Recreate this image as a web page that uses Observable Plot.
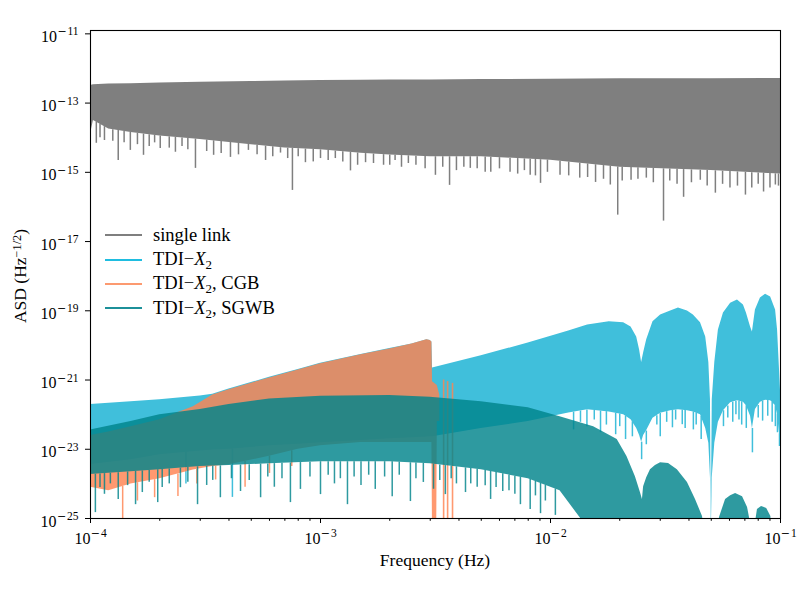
<!DOCTYPE html>
<html><head><meta charset="utf-8">
<script src="https://cdn.jsdelivr.net/npm/d3@7"></script>
<script src="https://cdn.jsdelivr.net/npm/@observablehq/plot@0.6"></script>
<style>
body{margin:0;background:#fff;}
#wrap{position:relative;width:800px;height:591px;font-family:"Liberation Serif",serif;color:#000;}
#legend{position:absolute;left:105px;top:223px;font-size:18.5px;}
.row{display:flex;align-items:center;height:24.4px;white-space:nowrap;}
.sw{width:37px;height:2px;margin-right:11px;flex-shrink:0;}
sub{font-size:0.7em;vertical-align:-0.3em;line-height:0;}
sup{font-size:0.7em;vertical-align:0.45em;line-height:0;}
#xlabel{position:absolute;left:335px;width:200px;text-align:center;top:550px;font-size:17.5px;}
#ylabel{position:absolute;left:-80.5px;top:266px;width:200px;text-align:center;font-size:17.5px;line-height:20px;transform:rotate(-90deg);}
</style></head><body>
<div id="wrap"><div id="chart"></div><div id="legend"></div>
<div id="xlabel">Frequency (Hz)</div>
<div id="ylabel">ASD (Hz<sup>−1/2</sup>)</div></div>
<script>
// ---------- axis ticks ----------
const xMajorTicks = [1e-4, 1e-3, 1e-2, 1e-1];
const xMinorTicks = [2e-4,3e-4,4e-4,5e-4,6e-4,7e-4,8e-4,9e-4,2e-3,3e-3,4e-3,5e-3,6e-3,7e-3,8e-3,9e-3,2e-2,3e-2,4e-2,5e-2,6e-2,7e-2,8e-2,9e-2];
const yTicks = [1e-25, 1e-23, 1e-21, 1e-19, 1e-17, 1e-15, 1e-13, 1e-11];

// ---------- single link (envelope of the noisy ASD) ----------
const grayFreq  = [1e-4,1.03e-4,1.2e-4,1.5e-4,2e-4,3e-4,5e-4,7e-4,1e-3,1.5e-3,2e-3,3e-3,5e-3,1e-2,2e-2,5e-2,1e-1];
const grayUpper = [3.24e-13,3.39e-13,3.55e-13,3.63e-13,3.80e-13,3.98e-13,4.17e-13,4.37e-13,4.47e-13,4.57e-13,4.68e-13,4.68e-13,4.79e-13,4.90e-13,5.01e-13,5.01e-13,5.13e-13];
const grayLower = [1.26e-14,3.16e-14,1.78e-14,1.41e-14,1.12e-14,8.91e-15,6.31e-15,5.01e-15,4.47e-15,3.55e-15,3.16e-15,2.82e-15,2.82e-15,2.24e-15,1.41e-15,1.12e-15,8.91e-16];
const graySpikeFreq = [1.06e-4,1.15e-4,1.32e-4,1.49e-4,1.70e-4,2.01e-4,2.34e-4,2.86e-4,3.43e-4,4.06e-4,4.86e-4,5.77e-4,6.70e-4,7.55e-4,8.60e-4,1.0e-3,1.16e-3,1.35e-3,1.57e-3,1.88e-3,2.11e-3,2.41e-3,3.16e-3,3.64e-3,4.48e-3,5.50e-3,6.67e-3,8.16e-3,9.05e-3,1.10e-2,1.34e-2,1.57e-2,1.82e-2,1.96e-2,2.24e-2,2.61e-2,3.10e-2,3.79e-2,4.48e-2,5.21e-2,6.03e-2,7.04e-2,8.44e-2,9.5e-2,
  1.1e-4,1.25e-4,1.4e-4,1.6e-4,1.8e-4,1.9e-4,2.2e-4,2.5e-4,2.65e-4,3.2e-4,3.7e-4,4.4e-4,5.3e-4,6.2e-4,7.2e-4,8.0e-4,9.3e-4,1.08e-3,1.25e-3,1.45e-3,1.7e-3,2.0e-3,2.25e-3,2.6e-3,2.85e-3,3.4e-3,3.9e-3,4.2e-3,4.8e-3,5.2e-3,6.0e-3,7.2e-3,7.7e-3,8.6e-3,9.7e-3,1.2e-2,1.45e-2,1.7e-2,2.05e-2,2.4e-2,2.8e-2,3.3e-2,3.55e-2,4.1e-2,4.8e-2,5.6e-2,6.5e-2,7.5e-2,8.0e-2,9.0e-2,9.8e-2];
const graySpikeMin  = [6.9e-15,8.3e-15,2.2e-15,4.3e-15,3.1e-15,4.9e-15,3.8e-15,1.3e-15,3.1e-15,2.7e-15,4.3e-15,2.2e-15,3.6e-15,3.0e-16,1.9e-15,2.5e-15,2.5e-15,1.1e-15,1.9e-15,1.6e-15,2.2e-15,1.8e-15,8.2e-16,4.2e-16,1.3e-15,1.0e-15,1.0e-15,8.2e-16,4.8e-16,8.2e-16,6.8e-16,5.1e-16,4.3e-16,5.8e-17,5.9e-16,6.8e-16,3.9e-17,1.9e-16,5.9e-16,2.5e-16,3.5e-16,2.2e-16,2.7e-16,4.3e-16,
  1.0e-14,7.9e-15,7.1e-15,6.3e-15,5.6e-15,7.1e-15,5.0e-15,5.6e-15,4.5e-15,4.0e-15,3.5e-15,3.2e-15,3.2e-15,2.8e-15,2.5e-15,2.8e-15,2.0e-15,2.2e-15,2.0e-15,1.6e-15,1.8e-15,1.6e-15,1.4e-15,1.6e-15,1.26e-15,1.4e-15,1.12e-15,1.4e-15,1.26e-15,1.0e-15,1.26e-15,8.9e-16,1.12e-15,7.9e-16,1.0e-15,7.9e-16,7.1e-16,6.3e-16,5.6e-16,6.3e-16,5.0e-16,5.6e-16,4.5e-16,5.0e-16,4.0e-16,4.5e-16,4.0e-16,3.5e-16,4.5e-16,3.5e-16,4.0e-16];

// ---------- TDI-X2 ----------
const tdiFreq  = [1e-4,1.5e-4,2e-4,3e-4,3.4e-4,4e-4,6e-4,8e-4,1e-3,1.5e-3,2e-3,2.5e-3,2.9e-3,3.0e-3,3.05e-3,3.07e-3,5e-3,8e-3,1.2e-2,1.45e-2,1.8e-2,2.08e-2,2.24e-2,2.37e-2,2.44e-2,2.49e-2,2.54e-2,2.62e-2,2.79e-2,3.01e-2,3.33e-2,3.6e-2,3.94e-2,4.18e-2,4.49e-2,4.73e-2,4.88e-2,4.96e-2,5.0e-2,5.05e-2,5.18e-2,5.37e-2,5.65e-2,6.07e-2,6.5e-2,6.9e-2,7.11e-2,7.41e-2,7.55e-2,7.78e-2,8.18e-2,8.61e-2,9.06e-2,9.52e-2,9.71e-2,9.95e-2,1e-1];
const tdiUpper = [1.95e-22,2.34e-22,2.69e-22,3.47e-22,3.9e-22,5.5e-22,1.2e-21,2.0e-21,3.05e-21,5.5e-21,8.1e-21,1.1e-20,1.45e-20,1.38e-20,1.26e-20,2.24e-21,5.01e-21,1.17e-20,2.63e-20,3.9e-20,4.8e-20,4.5e-20,3.4e-20,1.74e-20,7.4e-21,3.2e-21,6.0e-21,1.45e-20,4.8e-20,7.6e-20,9.8e-20,1.2e-19,9.8e-20,7.6e-20,4.5e-20,1.74e-20,3.2e-21,2.7e-22,5e-26,2.7e-22,3.2e-21,2.8e-20,8.7e-20,1.66e-19,2.04e-19,1.48e-19,8.7e-20,3.4e-20,2.45e-20,1.05e-19,2.34e-19,3.0e-19,2.5e-19,1.05e-19,2.8e-20,1.0e-21,5e-22];
const tdiLower = [3.63e-24,5.01e-24,6.92e-24,8.91e-24,9.5e-24,1.0e-23,1.26e-23,1.4e-23,1.55e-23,1.8e-23,2.0e-23,2.15e-23,2.25e-23,2.29e-23,2.29e-23,2.29e-23,3.98e-23,6.31e-23,1.12e-22,1.38e-22,1.2e-22,1.0e-22,7.1e-23,4.0e-23,2.5e-23,1.6e-23,2.5e-23,3.5e-23,7.9e-23,1.1e-22,1.3e-22,1.38e-22,1.3e-22,1.2e-22,1.0e-22,4.0e-23,1.5e-23,1.5e-24,3.16e-26,1.5e-24,1.5e-23,6.0e-23,1.3e-22,2.2e-22,2.5e-22,2.3e-22,1.8e-22,9.0e-23,4.0e-23,1.4e-22,2.3e-22,2.6e-22,2.5e-22,1.8e-22,1.0e-22,2.0e-23,1.17e-23];
const tdiSpikeFreq = [2.6e-4,4.14e-4,1.26e-2,1.44e-2,1.65e-2,1.92e-2,2.12e-2,2.27e-2,2.49e-2,2.61e-2,3.0e-2,3.39e-2,3.74e-2,4.18e-2,4.52e-2,5.65e-2,6.2e-2,6.78e-2,7.1e-2,7.55e-2,8.36e-2,9.5e-2,9.9e-2,
  1.35e-2,1.55e-2,1.75e-2,2.0e-2,2.9e-2,3.2e-2,3.5e-2,3.85e-2,4.3e-2,5.9e-2,6.4e-2,6.6e-2,8.0e-2,8.8e-2,9.2e-2,9.7e-2];
const tdiSpikeMin  = [1.0e-24,4.07e-25,3.63e-23,4.47e-23,3.02e-23,2.63e-23,1.91e-23,2.29e-23,5.0e-24,1.35e-23,2.29e-23,4.17e-23,5.13e-23,3.63e-23,1.91e-23,4.5e-23,6.0e-23,5.0e-23,4.0e-23,7.9e-24,6.5e-23,4.5e-23,1.2e-23,
  6.0e-23,7.0e-23,5.0e-23,4.5e-23,5.0e-23,6.0e-23,7.0e-23,4.0e-23,5.0e-23,8.0e-23,1.0e-22,7.0e-23,8.0e-23,9.0e-23,6.0e-23,3.0e-23];

// ---------- TDI-X2, CGB ----------
const cgbFreq  = [1e-4,1.2e-4,1.5e-4,2e-4,2.8e-4,3.4e-4,4e-4,6e-4,8e-4,1e-3,1.5e-3,2e-3,2.5e-3,2.9e-3,3.0e-3,3.05e-3,3.07e-3,3.2e-3,3.22e-3,3.3e-3];
const cgbUpper = [2.51e-23,3.16e-23,4.47e-23,7.08e-23,1.70e-22,3.72e-22,5.25e-22,1.15e-21,1.95e-21,2.95e-21,5.37e-21,7.94e-21,1.10e-20,1.45e-20,1.38e-20,1.26e-20,8.91e-22,7.24e-22,7.0e-22,3.72e-22];
const cgbLower = [7.94e-25,6.31e-25,1.0e-24,1.41e-24,2.51e-24,3.16e-24,3.55e-24,6.31e-24,1.0e-23,1.26e-23,1.58e-23,1.58e-23,1.58e-23,1.58e-23,1.58e-23,1.58e-23,3.16e-26,3.16e-26,6.3e-23,6.3e-23];
const cgbSpikeFreq = [1.38e-4,1.6e-4,1.9e-4,2.4e-4,2.9e-4,3.5e-4,4.7e-4,6.0e-4,7.5e-4];
const cgbSpikeMin  = [5e-26,3.2e-25,4.0e-25,4.3e-25,1.0e-24,1.3e-24,8.0e-25,2.0e-24,3.2e-24];
const cgbBarFreq   = [3.43e-3,3.57e-3,3.75e-3];
const cgbBarTop    = [1.0e-21,9.0e-22,8.0e-22];
const cgbBarBottom = [3.16e-26,3.16e-26,3.16e-26];

// ---------- TDI-X2, SGWB ----------
const sgwbFreq  = [1e-4,1.5e-4,2e-4,3e-4,4e-4,6e-4,1e-3,2e-3,3e-3,5e-3,8e-3,1.1e-2,1.54e-2,1.95e-2,2.15e-2,2.34e-2,2.46e-2,2.51e-2,2.54e-2,2.62e-2,2.72e-2,2.86e-2,3.01e-2,3.26e-2,3.56e-2,3.94e-2,4.27e-2,4.58e-2,4.7e-2,5.3e-2,5.43e-2,5.77e-2,6.07e-2,6.38e-2,6.84e-2,7.19e-2,7.33e-2,7.5e-2,7.63e-2,7.94e-2,8.27e-2,8.71e-2,9.08e-2,9.18e-2,1e-1];
const sgwbUpper = [3.63e-23,6.31e-23,1.0e-22,1.41e-22,1.95e-22,2.82e-22,3.39e-22,3.55e-22,3.16e-22,2.34e-22,1.58e-22,8.71e-23,4.47e-23,1.91e-23,6.17e-24,1.62e-24,5.62e-25,3.55e-25,8.32e-25,1.5e-24,2.57e-24,3.4e-24,4.07e-24,3.9e-24,2.57e-24,1.10e-24,3.55e-25,1.15e-25,3.16e-26,3.16e-26,1.07e-25,3.55e-25,4.57e-25,5.25e-25,4.27e-25,2.09e-25,1.07e-25,3.16e-26,3.16e-26,1.82e-25,2.24e-25,1.95e-25,1.15e-25,3.16e-26,3.16e-26];
const sgwbLower = [1.86e-24,2.24e-24,2.57e-24,3.16e-24,3.39e-24,3.80e-24,4.37e-24,4.37e-24,3.80e-24,2.57e-24,1.41e-24,6.31e-25,3.16e-26,3.16e-26,3.16e-26,3.16e-26,3.16e-26,3.16e-26,3.16e-26,3.16e-26,3.16e-26,3.16e-26,3.16e-26,3.16e-26,3.16e-26,3.16e-26,3.16e-26,3.16e-26,3.16e-26,3.16e-26,3.16e-26,3.16e-26,3.16e-26,3.16e-26,3.16e-26,3.16e-26,3.16e-26,3.16e-26,3.16e-26,3.16e-26,3.16e-26,3.16e-26,3.16e-26,3.16e-26,3.16e-26];
const sgwbSpikeFreq = [1.05e-4,1.15e-4,1.32e-4,1.57e-4,1.68e-4,1.96e-4,2.2e-4,2.46e-4,2.92e-4,3.2e-4,3.67e-4,4.49e-4,5.49e-4,6.3e-4,7.4e-4,8.18e-4,1.0e-3,1.15e-3,1.31e-3,1.5e-3,1.73e-3,2.05e-3,2.46e-3,2.8e-3,3.1e-3,3.49e-3,3.9e-3,4.27e-3,4.8e-3,5.49e-3,6.2e-3,7.4e-3,8.16e-3,9.05e-3,1.05e-2,
  1.1e-4,1.22e-4,1.45e-4,1.8e-4,2.05e-4,2.65e-4,3.4e-4,4.1e-4,4.9e-4,5.9e-4,6.8e-4,9.0e-4,1.08e-3,1.22e-3,1.4e-3,1.62e-3,1.9e-3,2.2e-3,2.6e-3,3.3e-3,3.7e-3,4.5e-3,5.2e-3,5.8e-3,6.6e-3,7.0e-3,8.6e-3,9.5e-3];
const sgwbSpikeMin  = [1.48e-25,5.0e-25,3.55e-25,2.51e-25,5.62e-25,2.88e-25,1.0e-24,7.76e-25,2.51e-25,9.0e-25,3.98e-25,6.03e-25,3.98e-25,8.0e-25,2.88e-25,6.92e-25,4.90e-25,1.0e-24,2.51e-25,9.0e-25,6.92e-25,4.27e-25,3.09e-25,1.1e-24,7.0e-25,4.90e-25,1.0e-24,5.62e-25,8.0e-25,3.55e-25,6.0e-25,2.51e-25,1.82e-25,1.38e-25,1.23e-25,
  7.9e-25,1.0e-24,8.9e-25,1.12e-24,7.9e-25,1.12e-24,1.26e-24,1.41e-24,1.26e-24,1.58e-24,1.41e-24,1.58e-24,1.78e-24,1.41e-24,1.58e-24,1.78e-24,1.58e-24,1.78e-24,1.41e-24,1.26e-24,1.41e-24,1.0e-24,8.9e-25,7.9e-25,6.3e-25,5.0e-25,4.5e-25,3.2e-25];

// ---------- colours ----------
const colGray = "#7f7f7f", colTdi = "#40bfdb", colCgb = "#ff8250", colSgwb = "#00848b";
const opCgb = 0.82, opSgwb = 0.82;

// ---------- helpers (table building) ----------
const band = (f, hi, lo) => f.map((d, i) => ({f: d, hi: hi[i], lo: lo[i]}));
function envAt(fs, vs, f) {
  let i = d3.bisectRight(fs, f) - 1;
  i = Math.max(0, Math.min(fs.length - 2, i));
  const a = Math.log10(fs[i]), b = Math.log10(fs[i + 1]);
  const t = (Math.log10(f) - a) / (b - a);
  return 10 ** (Math.log10(vs[i]) + t * (Math.log10(vs[i + 1]) - Math.log10(vs[i])));
}
const spikes = (sf, sm, ef, el) => sf.map((d, i) => ({f: d, v: sm[i], top: envAt(ef, el, d)}));

const grayBand = band(grayFreq, grayUpper, grayLower);
const tdiBand = band(tdiFreq, tdiUpper, tdiLower);
const cgbBand = band(cgbFreq, cgbUpper, cgbLower);
const sgwbBand = band(sgwbFreq, sgwbUpper, sgwbLower);
const graySp = spikes(graySpikeFreq, graySpikeMin, grayFreq, grayLower);
const tdiSp = spikes(tdiSpikeFreq, tdiSpikeMin, tdiFreq, tdiLower);
const cgbSp = spikes(cgbSpikeFreq, cgbSpikeMin, cgbFreq, cgbLower);
const sgwbSp = spikes(sgwbSpikeFreq, sgwbSpikeMin, sgwbFreq, sgwbLower);
const cgbBars = cgbBarFreq.map((d, i) => ({f: d, top: cgbBarTop[i], bottom: cgbBarBottom[i]}));

const fmt = d => "10^" + String(Math.round(Math.log10(d))).replace("-", "−");

const chart = Plot.plot({
  width: 800, height: 591,
  marginLeft: 90, marginRight: 20, marginTop: 30, marginBottom: 73,
  style: {fontFamily: "'Liberation Serif', serif", fontSize: "16px", background: "white", color: "black"},
  x: {type: "log", domain: [1e-4, 1e-1]},
  y: {type: "log", domain: [1e-25, 1.25e-11]},
  marks: [
    Plot.areaY(grayBand, {x: "f", y1: "lo", y2: "hi", fill: colGray, curve: "linear", clip: true}),
    Plot.ruleX(graySp, {x: "f", y1: "v", y2: "top", stroke: colGray, strokeWidth: 1.5, clip: true}),
    Plot.areaY(tdiBand, {x: "f", y1: "lo", y2: "hi", fill: colTdi, curve: "linear", clip: true}),
    Plot.ruleX(tdiSp, {x: "f", y1: "v", y2: "top", stroke: colTdi, strokeWidth: 1.5, clip: true}),
    Plot.areaY(cgbBand, {x: "f", y1: "lo", y2: "hi", fill: colCgb, fillOpacity: opCgb, curve: "linear", clip: true}),
    Plot.ruleX(cgbSp, {x: "f", y1: "v", y2: "top", stroke: colCgb, strokeOpacity: opCgb, strokeWidth: 1.5, clip: true}),
    Plot.ruleX(cgbBars, {x: "f", y1: "bottom", y2: "top", stroke: colCgb, strokeOpacity: opCgb, strokeWidth: 1.6, clip: true}),
    Plot.areaY(sgwbBand, {x: "f", y1: "lo", y2: "hi", fill: colSgwb, fillOpacity: opSgwb, curve: "linear", clip: true}),
    Plot.ruleX(sgwbSp, {x: "f", y1: "v", y2: "top", stroke: colSgwb, strokeOpacity: opSgwb, strokeWidth: 1.5, clip: true}),
    Plot.frame({stroke: "black", strokeWidth: 1.1}),
    Plot.axisX({ticks: xMajorTicks, tickFormat: fmt, tickSize: 5, tickPadding: 9, label: null}),
    Plot.axisX({ticks: xMinorTicks, tickFormat: () => "", tickSize: 2.8, label: null}),
    Plot.axisY({ticks: yTicks, tickFormat: fmt, tickSize: 5, tickPadding: 7, label: null})
  ]
});
document.getElementById("chart").appendChild(chart);

// superscript exponents in tick labels
const NS = "http://www.w3.org/2000/svg";
chart.querySelectorAll("text").forEach(t => {
  const m = /^10\^(−?)(\d+)$/.exec(t.textContent);
  if (!m) return;
  const isY = !!t.closest('[aria-label="y-axis tick label"]');
  while (t.firstChild) t.removeChild(t.firstChild);
  t.setAttribute("font-size", "16");
  t.style.fontSize = "16px";
  const base = document.createElementNS(NS, "tspan");
  if (isY) base.setAttribute("dy", "3");
  base.textContent = "10";
  t.appendChild(base);
  const mi = document.createElementNS(NS, "tspan");
  mi.setAttribute("dy", "-6.5");
  mi.setAttribute("dx", "0.5");
  mi.setAttribute("font-size", "11");
  mi.setAttribute("font-family", "'DejaVu Serif', serif");
  mi.textContent = m[1];
  t.appendChild(mi);
  const dg = document.createElementNS(NS, "tspan");
  dg.setAttribute("dx", "0.8");
  dg.setAttribute("font-size", "11.5");
  dg.textContent = m[2];
  t.appendChild(dg);
});

// legend
const legendItems = [
  {color: colGray, html: "single link"},
  {color: "#1fbde0", html: "TDI−<i>X</i><sub>2</sub>"},
  {color: "#fc9a70", html: "TDI−<i>X</i><sub>2</sub>, CGB"},
  {color: "#1c9099", html: "TDI−<i>X</i><sub>2</sub>, SGWB"}
];
const lg = document.getElementById("legend");
legendItems.forEach(it => {
  const r = document.createElement("div"); r.className = "row";
  r.innerHTML = `<div class="sw" style="background:${it.color}"></div><span>${it.html}</span>`;
  lg.appendChild(r);
});
</script>
</body></html>
